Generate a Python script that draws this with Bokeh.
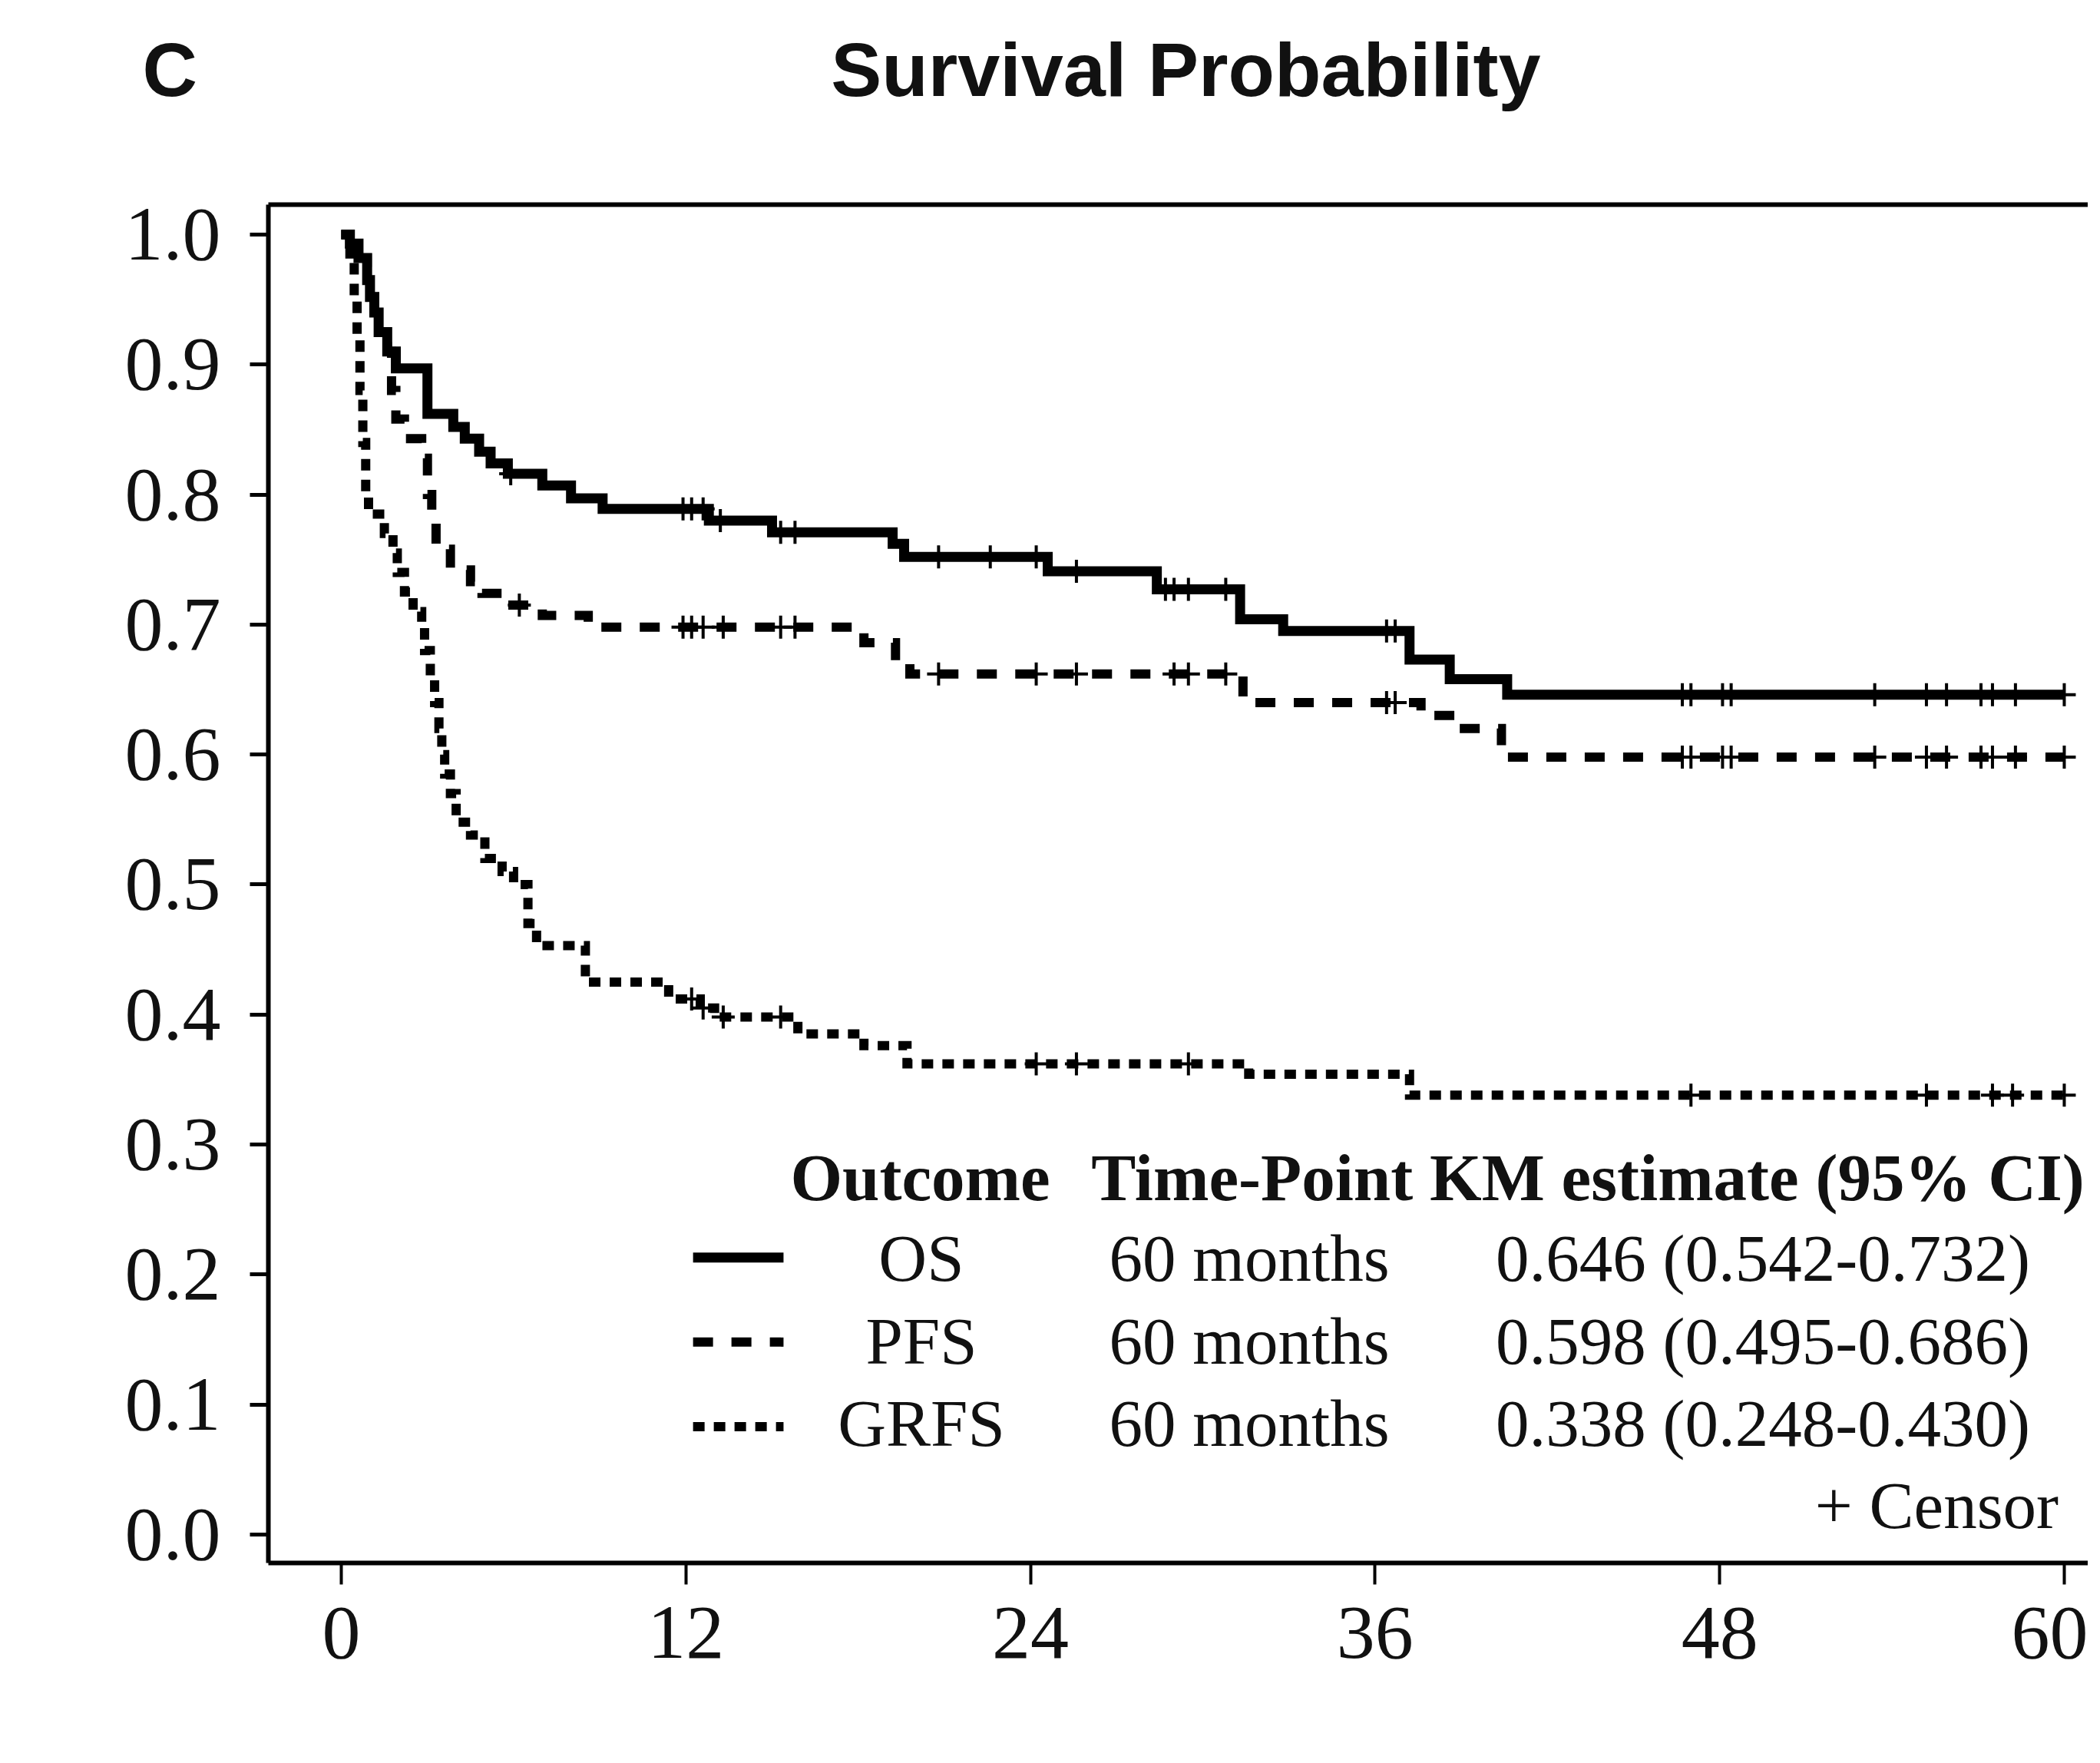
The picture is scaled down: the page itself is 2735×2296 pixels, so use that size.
import numpy as np
from bokeh.plotting import figure
from bokeh.models import Range1d, LinearAxis, FixedTicker, PrintfTickFormatter
from bokeh.core.properties import value
from bokeh.embed import file_html
from bokeh.resources import INLINE

# ---------------- data ----------------
os_t = [0, 0.3, 0.6, 0.9, 1.0, 1.15, 1.3, 1.6, 1.9, 3.0, 3.9, 4.3, 4.8, 5.2, 5.8, 7.0, 8.0, 9.1,
        12.8, 15.0, 19.2, 19.6, 24.6, 28.4, 31.3, 32.8, 37.2, 38.6, 40.6, 60.0]
os_s = [1.0, 0.993, 0.982, 0.965, 0.952, 0.94, 0.925, 0.91, 0.897, 0.862, 0.852, 0.843, 0.833, 0.824,
        0.816, 0.807, 0.797, 0.789, 0.780, 0.771, 0.762, 0.752, 0.741, 0.727, 0.704, 0.695, 0.673,
        0.658, 0.646, 0.646]
os_cens = [5.9, 11.9, 12.2, 12.6, 13.2, 15.3, 15.8, 20.8, 22.6, 24.2, 25.6, 28.7, 29.0, 29.5, 30.8,
           36.4, 36.7, 46.7, 47.0, 48.1, 48.4, 53.4, 55.2, 55.9, 57.1, 57.5, 58.3, 60.0]

pfs_t = [0, 0.3, 0.6, 0.9, 1.0, 1.15, 1.3, 1.6, 1.75, 1.9, 2.2, 2.8, 3.0, 3.15, 3.3, 3.8, 4.5, 4.9,
         5.6, 7.0, 8.6, 18.2, 19.3, 19.8, 31.4, 37.6, 38.8, 40.4, 60.0]
pfs_s = [1.0, 0.993, 0.982, 0.965, 0.952, 0.94, 0.925, 0.91, 0.88, 0.858, 0.843, 0.828, 0.80, 0.78,
         0.758, 0.742, 0.733, 0.724, 0.715, 0.707, 0.698, 0.686, 0.672, 0.662, 0.640, 0.630, 0.620,
         0.598, 0.598]
pfs_cens = [6.2, 11.9, 12.2, 12.6, 13.3, 15.3, 15.8, 20.8, 24.2, 25.6, 29.0, 29.5, 30.8, 36.4, 36.7,
            46.7, 47.0, 48.1, 48.4, 53.4, 55.2, 55.9, 57.1, 57.5, 58.3, 60.0]

grfs_t = [0, 0.3, 0.45, 0.55, 0.65, 0.75, 0.85, 0.95, 1.5, 1.8, 1.95, 2.2, 2.5, 2.8, 2.9, 3.1, 3.25,
          3.4, 3.5, 3.6, 3.8, 4.0, 4.5, 5.0, 5.6, 6.0, 6.5, 6.8, 8.5, 11.4, 12.5, 13.0, 15.9, 18.2,
          19.7, 31.6, 37.2, 60.0]
grfs_s = [1.0, 0.985, 0.95, 0.92, 0.88, 0.84, 0.80, 0.785, 0.77, 0.755, 0.74, 0.725, 0.71, 0.70, 0.68,
          0.66, 0.64, 0.62, 0.60, 0.585, 0.57, 0.548, 0.538, 0.52, 0.51, 0.50, 0.47, 0.453, 0.425,
          0.412, 0.405, 0.398, 0.385, 0.376, 0.362, 0.354, 0.338, 0.338]
grfs_cens = [12.2, 12.6, 13.3, 15.3, 24.2, 25.6, 29.5, 47.0, 55.2, 57.5, 58.2, 60.0]

outcomes = ["OS", "PFS", "GRFS"]
time_points = ["60 months", "60 months", "60 months"]
km_estimates = ["0.646 (0.542-0.732)", "0.598 (0.495-0.686)", "0.338 (0.248-0.430)"]
header = ["Outcome", "Time-Point KM estimate (95% CI)"]

xticks = [0, 12, 24, 36, 48, 60]
yticks = [0.0, 0.1, 0.2, 0.3, 0.4, 0.5, 0.6, 0.7, 0.8, 0.9, 1.0]

NBSP = "\u00a0"
panel_letter = "C"
title_text = "Survival Probability"

# ---------------- figure ----------------
W, H = 2719, 2280
p = figure(width=W, height=H, output_backend="svg", toolbar_location=None,
           x_range=Range1d(-2.54, 60.83), y_range=Range1d(-0.0219, 1.023),
           min_border_left=349, min_border_right=0, min_border_top=266, min_border_bottom=245,
           x_axis_type=None, y_axis_type=None)
p.outline_line_color = None
p.background_fill_color = "white"
p.border_fill_color = "white"

SERIF = "Liberation Serif"
SANS = "Liberation Sans"
AXIS_LW = 6
INK = "#111111"

yax = LinearAxis(ticker=FixedTicker(ticks=yticks), formatter=PrintfTickFormatter(format="%.1f"))
yax.axis_line_width = AXIS_LW
yax.major_tick_line_width = 5
yax.major_tick_out = 24
yax.major_tick_in = 0
yax.major_label_text_font = SERIF
yax.major_label_text_font_size = "100px"
yax.major_label_text_color = INK
yax.major_label_standoff = 38
p.add_layout(yax, "left")

xax = LinearAxis(ticker=FixedTicker(ticks=xticks))
xax.axis_line_width = AXIS_LW
xax.major_tick_line_width = 4
xax.major_tick_out = 28
xax.major_tick_in = 0
xax.major_label_text_font = SERIF
xax.major_label_text_font_size = "100px"
xax.major_label_text_color = INK
xax.major_label_standoff = 30
p.add_layout(xax, "below")

# top border of the frame; its single tick label carries the panel letter and the title
TITLE_TICK = 17.42
tax = LinearAxis(ticker=FixedTicker(ticks=[TITLE_TICK]))
tax.axis_line_width = AXIS_LW
tax.major_tick_in = 0
tax.major_tick_out = 0
tax.major_tick_line_color = None
tax.major_label_overrides = {TITLE_TICK: panel_letter + NBSP * 30 + title_text}
tax.major_label_text_font = SANS
tax.major_label_text_font_style = "bold"
tax.major_label_text_font_size = "99px"
tax.major_label_text_color = INK
tax.major_label_standoff = 121
p.add_layout(tax, "above")

# ---------------- curves ----------------
OS_DASH = "solid"
PFS_DASH = "26 24"
GRFS_DASH = "15 12"

series = [
    (os_t, os_s, os_cens, OS_DASH, 13),
    (pfs_t, pfs_s, pfs_cens, PFS_DASH, 12),
    (grfs_t, grfs_s, grfs_cens, GRFS_DASH, 12),
]
for t, s, c, dash, lw in series:
    p.step(t, s, mode="after", line_color="black", line_width=lw, line_dash=dash,
           line_join="miter", line_cap="butt")
    ta = np.asarray(t)
    sa = np.asarray(s)
    idx = np.searchsorted(ta, np.asarray(c), side="right") - 1
    p.scatter(c, sa[idx], marker="cross", size=30, line_color="black", line_width=4)

# ---------------- legend table (text glyphs inside the frame) ----------------
LEG_SIZE = "87px"
txt = dict(text_font=value(SERIF), text_font_size=value(LEG_SIZE), text_color=INK,
           text_baseline="alphabetic")

header_x = [15.64, 26.12]
header_y = 0.2746
p.text(x=header_x, y=[header_y] * 2, text=header, text_font_style="bold", text_align="left", **txt)

row_text_y = [0.2126, 0.1486, 0.0856]
row_line_y = [0.213, 0.148, 0.083]
col_outcome_x, col_time_x, col_est_x = 20.2, 26.74, 40.2
p.text(x=[col_outcome_x] * 3, y=row_text_y, text=outcomes, text_align="center", **txt)
p.text(x=[col_time_x] * 3, y=row_text_y, text=time_points, text_align="left", **txt)
p.text(x=[col_est_x] * 3, y=row_text_y, text=km_estimates, text_align="left", **txt)
p.text(x=[59.8], y=[0.0226], text=["+ Censor"], text_align="right", **txt)

leg_x0, leg_x1 = 12.25, 15.4
dashes = [OS_DASH, PFS_DASH, GRFS_DASH]
widths = [13, 12, 12]
for i in range(3):
    p.line([leg_x0, leg_x1], [row_line_y[i], row_line_y[i]], line_color="black", line_width=widths[i],
           line_dash=dashes[i], line_cap="butt")

open("out.html", "w").write(file_html(p, INLINE))
